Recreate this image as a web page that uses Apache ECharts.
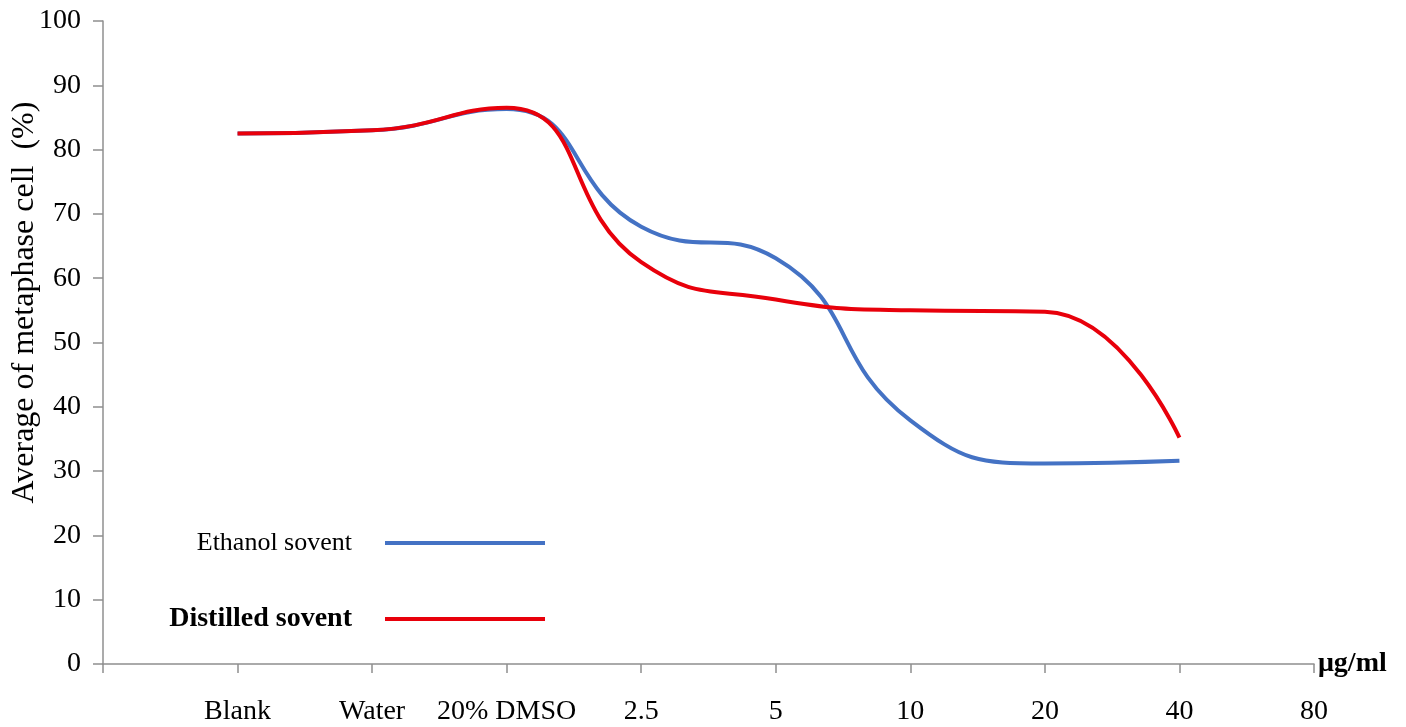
<!DOCTYPE html>
<html>
<head>
<meta charset="utf-8">
<script src="https://cdn.jsdelivr.net/npm/echarts@6/dist/echarts.min.js"></script>
<style>
html,body{margin:0;padding:0;background:#fff;}
#chart{width:1406px;height:727px;}
</style>
</head>
<body>
<div id="chart"></div>
<script>
var categories = ['', 'Blank', 'Water', '20% DMSO', '2.5', '5', '10', '20', '40', '80'];
var ethanolValues = [null, 82.5, 83.0, 86.3, 68.0, 63.1, 37.9, 31.2, 31.6, null];
var distilledValues = [null, 82.5, 83.0, 86.5, 62.5, 56.7, 55.0, 54.8, 35.2, null];
var seriesNames = ['Ethanol sovent', 'Distilled sovent'];
var yTicks = [0, 10, 20, 30, 40, 50, 60, 70, 80, 90, 100];

var FONT = '"Liberation Serif", "Times New Roman", serif';
var AXIS_COLOR = '#8f8f8f';

var chart = echarts.init(document.getElementById('chart'), null, {renderer: 'canvas'});
chart.setOption({
  backgroundColor: '#ffffff',
  animation: false,
  grid: {left: 103, right: 92, top: 21, bottom: 63, containLabel: false, outerBoundsMode: 'none'},
  legend: {
    orient: 'vertical',
    align: 'right',
    right: 861,
    top: 530,
    padding: 0,
    itemWidth: 160,
    itemHeight: 4,
    itemGap: 49,
    icon: 'rect',
    textStyle: {fontFamily: FONT, color: '#000', padding: [0, 28, 0, 0]},
    data: [
      {name: seriesNames[0], textStyle: {fontSize: 26}},
      {name: seriesNames[1], textStyle: {fontSize: 28, fontWeight: 'bold'}}
    ]
  },
  xAxis: {
    type: 'category',
    data: categories,
    boundaryGap: false,
    name: 'μg/ml',
    nameLocation: 'end',
    nameGap: 4,
    nameMoveOverlap: false,
    nameTextStyle: {fontFamily: FONT, fontSize: 28, fontWeight: 'bold', color: '#000', verticalAlign: 'middle', padding: [10, 0, 0, 0]},
    axisLine: {show: true, lineStyle: {color: AXIS_COLOR, width: 1.5}},
    axisTick: {show: true, alignWithLabel: true, length: 9, lineStyle: {color: AXIS_COLOR, width: 1.5}},
    axisLabel: {fontFamily: FONT, fontSize: 28, color: '#000', margin: 34, interval: 0},
    splitLine: {show: false}
  },
  yAxis: {
    type: 'value',
    min: yTicks[0],
    max: yTicks[yTicks.length - 1],
    interval: 10,
    name: 'Average of metaphase cell  (%)',
    nameLocation: 'middle',
    nameGap: 62,
    nameMoveOverlap: false,
    nameTextStyle: {fontFamily: FONT, fontSize: 32, color: '#000', padding: [0, 0, 0, 80]},
    axisLine: {show: true, lineStyle: {color: AXIS_COLOR, width: 1.5}},
    axisTick: {show: true, length: 10, lineStyle: {color: AXIS_COLOR, width: 1.5}},
    axisLabel: {fontFamily: FONT, fontSize: 28, color: '#000', margin: 22},
    splitLine: {show: false}
  },
  series: [
    {
      name: seriesNames[0],
      type: 'line',
      data: ethanolValues,
      smooth: 0.5,
      showSymbol: false,
      symbol: 'none',
      color: '#4472c4',
      lineStyle: {width: 4, color: '#4472c4'},
      z: 2
    },
    {
      name: seriesNames[1],
      type: 'line',
      data: distilledValues,
      smooth: 0.5,
      showSymbol: false,
      symbol: 'none',
      color: '#e8000b',
      lineStyle: {width: 4, color: '#e8000b'},
      z: 3
    }
  ]
});
</script>
</body>
</html>
